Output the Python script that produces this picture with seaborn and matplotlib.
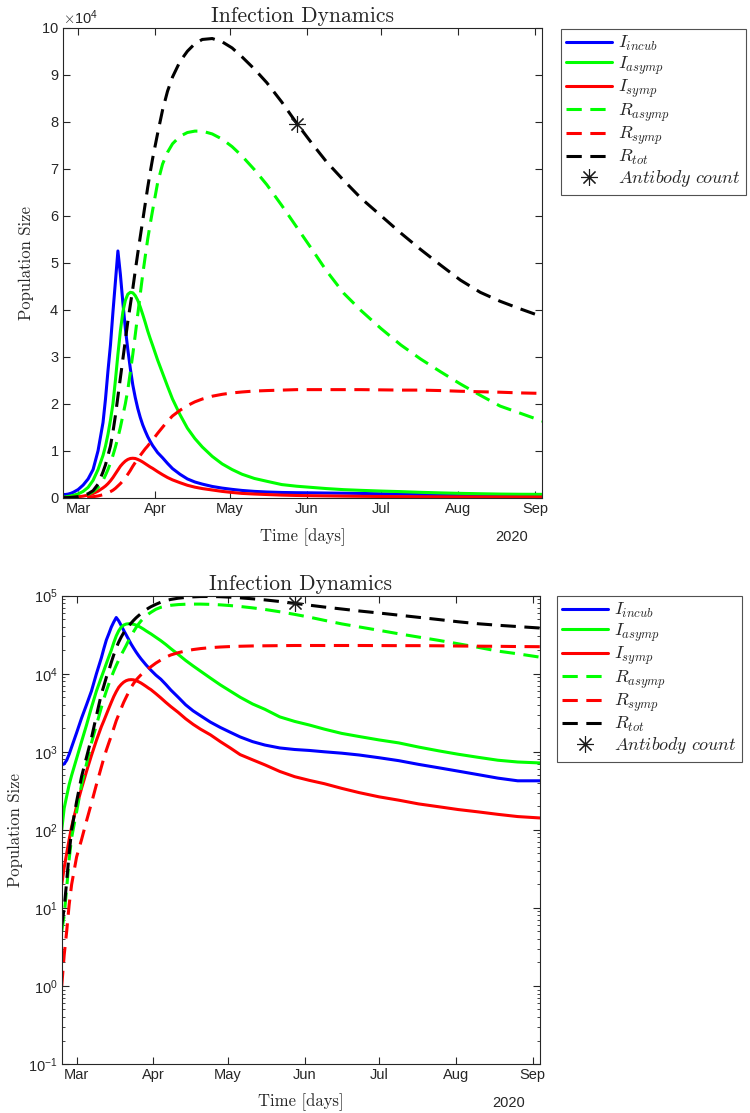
import numpy as np
import pandas as pd
import matplotlib
matplotlib.use("Agg")
import matplotlib.pyplot as plt
import matplotlib.dates as mdates
from matplotlib.lines import Line2D
import seaborn as sns

# days since 2020-02-24
days = [0, 1, 2, 3, 4, 6, 8, 10, 12, 14, 16, 17, 18, 19, 20, 21, 22, 23, 24, 25,
        26, 27, 28, 29, 30, 31, 32, 33, 34, 35, 36, 38, 40, 42, 44, 47, 50, 53, 56, 60,
        64, 68, 72, 77, 82, 88, 94, 100, 106, 113, 120, 128, 136, 144, 152, 160, 168, 176,
        184, 193]

i_incub = [680, 700, 780, 930, 1150, 1750, 2700, 4000, 6000, 10000, 16000, 21000, 27000,
           32500, 39500, 46000, 52500, 47500, 41500, 36000, 31500, 27500, 24000, 21300,
           19000, 17100, 15500, 14200, 13000, 12000, 11100, 9600, 8500, 7300, 6200, 5000,
           4000, 3350, 2900, 2400, 2050, 1780, 1550, 1350, 1220, 1120, 1070, 1040, 1000,
           960, 910, 840, 770, 690, 625, 565, 510, 460, 425, 425]
i_asymp = [100, 190, 270, 380, 500, 820, 1350, 2200, 3700, 6000, 9000, 11000, 13500,
           16500, 20000, 25000, 30500, 35500, 39500, 42000, 43300, 43700, 43600, 43000,
           42000, 40600, 39000, 37300, 35500, 33900, 32400, 29300, 26500, 23700, 21000,
           17700, 14800, 12600, 10800, 8800, 7200, 6000, 5000, 4100, 3500, 2800, 2450, 2200,
           1950, 1720, 1570, 1420, 1300, 1150, 1030, 930, 850, 780, 740, 720]
i_symp = [20, 33, 50, 75, 110, 200, 340, 560, 900, 1400, 2100, 2500, 3000, 3600, 4300,
          5100, 5900, 6700, 7300, 7800, 8150, 8350, 8400, 8350, 8150, 7900, 7600, 7250,
          6900, 6550, 6250, 5550, 4900, 4300, 3800, 3200, 2650, 2250, 1950, 1650, 1350,
          1120, 920, 790, 680, 560, 480, 430, 390, 340, 300, 265, 240, 215, 198, 182, 170,
          158, 148, 142]
r_asymp = [5, 8, 18, 42, 80, 170, 380, 700, 1300, 2200, 3700, 4800, 6000, 7400, 9000,
           10800, 12800, 15000, 17500, 20000, 23000, 26700, 30500, 34700, 39000, 43300,
           47500, 51300, 55000, 58200, 61200, 67000, 71000, 73500, 75300, 76900, 77700,
           78000, 78000, 77400, 76300, 74700, 72700, 69800, 66600, 62200, 57600, 53000,
           48300, 43500, 39800, 36000, 32500, 29500, 26800, 24200, 21800, 19500, 18000,
           16300]
r_symp = [1, 2.5, 5, 11, 20, 45, 75, 130, 220, 380, 640, 830, 1050, 1300, 1600, 2000,
          2500, 3000, 3600, 4300, 5000, 5800, 6700, 7500, 8300, 9000, 9700, 10400, 11000,
          11700, 12300, 13700, 15000, 16300, 17400, 18600, 19600, 20400, 21000, 21600,
          22000, 22300, 22500, 22700, 22800, 22900, 23000, 23000, 23000, 23000, 23000,
          22950, 22900, 22900, 22800, 22650, 22550, 22450, 22300, 22200]
r_tot = [6, 10, 22, 50, 100, 230, 480, 850, 1500, 2900, 5500, 7000, 9000, 11000, 14000,
         17500, 21500, 25500, 29500, 33500, 37500, 41000, 44500, 48300, 52000, 55500,
         59000, 62500, 66000, 69200, 72200, 77500, 82500, 86500, 89500, 92800, 95000,
         96600, 97500, 97700, 97000, 95700, 93800, 91200, 88300, 84200, 79700, 75500,
         71500, 67500, 63700, 60000, 56300, 52800, 49500, 46300, 43700, 41800, 40200,
         38500]

antibody_day = 94
antibody_count = 79500

start = pd.Timestamp("2020-02-24")
t = start + pd.to_timedelta(days, unit="D")
t_ab = start + pd.Timedelta(days=antibody_day)

sns.set_theme(style="white")
plt.rcParams["font.family"] = ["Liberation Sans", "DejaVu Sans"]
plt.rcParams["mathtext.fontset"] = "cm"
plt.rcParams["axes.edgecolor"] = "#262626"
plt.rcParams["axes.linewidth"] = 0.8
plt.rcParams["xtick.direction"] = "in"
plt.rcParams["ytick.direction"] = "in"
plt.rcParams["xtick.top"] = True
plt.rcParams["ytick.right"] = True
plt.rcParams["xtick.bottom"] = True
plt.rcParams["ytick.left"] = True
plt.rcParams["xtick.color"] = "#262626"
plt.rcParams["ytick.color"] = "#262626"

dash = (0, (5, 2.8))
series = [
    (r"$I_{incub}$", i_incub, "#0000ff", "-"),
    (r"$I_{asymp}$", i_asymp, "#00ff00", "-"),
    (r"$I_{symp}$", i_symp, "#ff0000", "-"),
    (r"$R_{asymp}$", r_asymp, "#00ff00", dash),
    (r"$R_{symp}$", r_symp, "#ff0000", dash),
    (r"$R_{tot}$", r_tot, "#000000", dash),
]
ab_marker = (8, 2, 0)

fig = plt.figure(figsize=(7.5, 11.13), dpi=100)
ax1 = fig.add_axes([0.0844, 0.5528, 0.6387, 0.4223])
ax2 = fig.add_axes([0.0823, 0.0440, 0.6377, 0.4208])

for ax in [ax1, ax2]:
    for name, vals, col, ls in series:
        sns.lineplot(x=t, y=vals, ax=ax, color=col, linestyle=ls, linewidth=2.2, legend=False)
    ax.plot(t_ab, antibody_count, marker=ab_marker, ms=12, mew=0.8, color="k", ls="none")
    ax.set_xlim(start, start + pd.Timedelta(days=193))
    ax.xaxis.set_major_locator(mdates.MonthLocator())
    ax.xaxis.set_major_formatter(mdates.DateFormatter("%b"))
    ax.xaxis.get_offset_text().set_visible(False)
    ax.tick_params(axis="both", which="major", labelsize=10.5, length=5, width=0.8, pad=3)
    ax.tick_params(axis="both", which="minor", length=2.5, width=0.6)
    for s in ax.spines.values():
        s.set_visible(True)
    ax.set_title("Infection Dynamics", fontfamily="cmr10", fontsize=15.5, pad=4)
    ax.set_xlabel("Time [days]", fontfamily="cmr10", fontsize=12)
    ax.set_ylabel("Population Size", fontfamily="cmr10", fontsize=12)
    ax.text(0.935, -0.083, "2020", transform=ax.transAxes, ha="center", va="center", fontsize=10.5)

# linear panel
ax1.set_ylim(0, 1e5)
ax1.set_yticks(np.arange(0, 1.01e5, 1e4))
ax1.ticklabel_format(axis="y", style="sci", scilimits=(4, 4), useMathText=True)
ax1.yaxis.get_offset_text().set_fontsize(10.5)
ax1.xaxis.set_label_coords(0.5, -0.066)
ax1.yaxis.set_label_coords(-0.062, 0.5)

# log panel
ax2.set_yscale("log")
ax2.set_ylim(1e-1, 1e5)
ax2.xaxis.set_label_coords(0.5, -0.062)
ax2.yaxis.set_label_coords(-0.081, 0.5)

handles = [Line2D([], [], color=col, linestyle=ls, linewidth=2.2) for _, _, col, ls in series]
handles.append(Line2D([], [], color="k", marker=ab_marker, ms=12, mew=0.8, ls="none"))
labels = [s[0] for s in series] + [r"$Antibody\ count$"]

for ax, anchor in [(ax1, (561 / 750, 1 - 29 / 1113)), (ax2, (557 / 750, 1 - 596 / 1113))]:
    leg = fig.legend(handles, labels, loc="upper left", bbox_to_anchor=anchor,
                     bbox_transform=fig.transFigure, frameon=True, fancybox=False,
                     fontsize=13, handlelength=2.55, handletextpad=0.3,
                     borderaxespad=0, borderpad=0.3, labelspacing=0.06)
    leg.get_frame().set_edgecolor("#262626")
    leg.get_frame().set_linewidth(0.8)

fig.savefig("out.png", dpi=100)
